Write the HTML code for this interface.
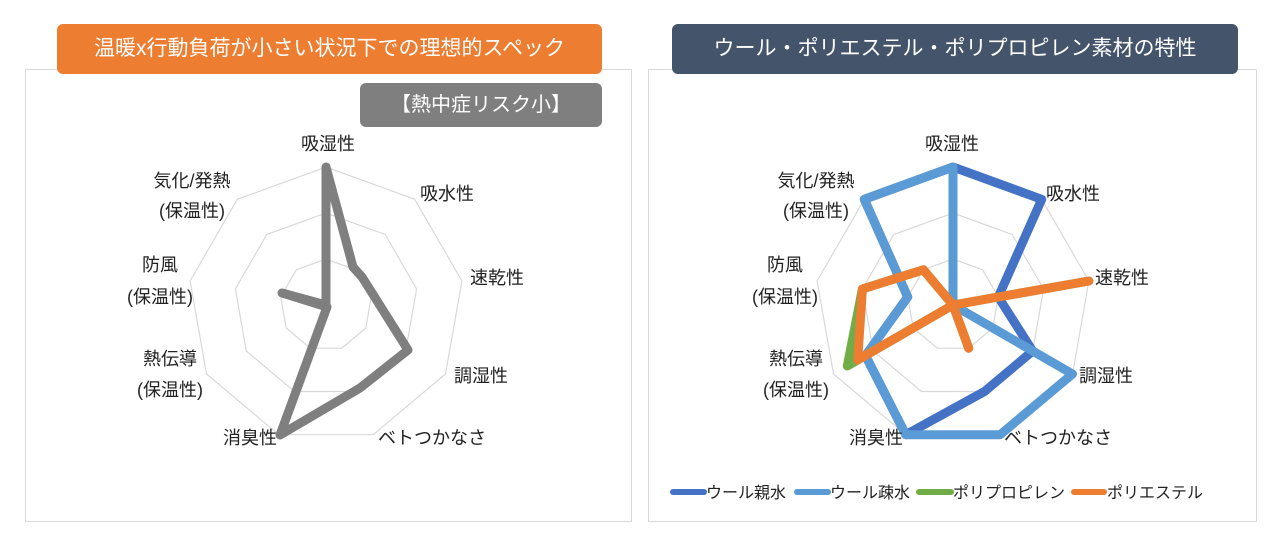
<!DOCTYPE html>
<html><head><meta charset="utf-8">
<style>
html,body{margin:0;padding:0;background:#fff;}
body{width:1280px;height:545px;position:relative;overflow:hidden;font-family:"Liberation Sans","Noto Sans CJK JP",sans-serif;}
.panel{position:absolute;border:1px solid #d9d9d9;background:#fff;}
.title{position:absolute;color:#fff;font-size:21px;text-align:center;border-radius:6px;line-height:50px;}
svg{position:absolute;left:0;top:0;}
svg text{font-family:"Liberation Sans","Noto Sans CJK JP",sans-serif;font-size:18px;fill:#222;}
</style></head><body>
<div class="panel" style="left:25px;top:69px;width:605px;height:451px;"></div>
<div class="panel" style="left:648px;top:69px;width:607px;height:451px;"></div>
<div class="title" style="left:57px;top:24px;width:545px;height:50px;background:#ED7D31;">温暖x行動負荷が小さい状況下での理想的スペック</div>
<div class="title" style="left:672px;top:24px;width:566px;height:50px;background:#44546A;">ウール・ポリエステル・ポリプロピレン素材の特性</div>
<div class="title" style="left:360px;top:83px;width:242px;height:44px;line-height:44px;background:#7F7F7F;font-size:20px;">【熱中症リスク小】</div>
<svg width="1280" height="545" viewBox="0 0 1280 545">
<defs>
<g id="grid" fill="none" stroke="#d9d9d9" stroke-width="1.2">
<polygon points="326,167 414.7,199.3 461.9,281 445.5,374 373.2,434.7 278.8,434.7 206.5,374 190.1,281 237.3,199.3"/>
<polygon points="326,213 385.2,234.5 416.6,289 405.7,351 357.5,391.5 294.5,391.5 246.3,351 235.4,289 266.8,234.5"/>
<polygon points="326,259 355.6,269.8 371.3,297 365.8,328 341.7,348.2 310.3,348.2 286.2,328 280.7,297 296.4,269.8"/>
</g>
</defs>
<use href="#grid"/>
<use href="#grid" transform="translate(627,0)"/>
<g fill="none" stroke-width="9" stroke-linejoin="round" stroke-linecap="round">
<polygon stroke="#7F7F7F" points="326,167 353,267 362,277 408,350 360,388 280,435 327,307 282,293 326,305"/>
<g transform="translate(627,0)">
<polygon stroke="#4472C4" points="326,167 414.7,199.3 371.3,297 405.7,351 357.5,391.5 278.8,434.7 238.5,355.6 280.7,297 237.3,199.3"/>
<polygon stroke="#5B9BD5" points="326,167 326,305 326,305 445.5,374 373.2,434.7 278.8,434.7 238.5,355.6 280.7,297 237.3,199.3"/>
<polygon stroke="#70AD47" points="326,305 326,305 461.9,281 326,305 341.7,348.2 326,305 220.3,366 235.4,289 296.4,269.8"/>
<polygon stroke="#ED7D31" points="326,305 326,305 461.9,281 326,305 341.7,348.2 326,305 230.7,360 235.4,289 296.4,269.8"/>
</g>
</g>
<g text-anchor="middle">
<text x="328" y="150">吸湿性</text>
<text x="447" y="200">吸水性</text>
<text x="497" y="284">速乾性</text>
<text x="481" y="382">調湿性</text>
<text x="432" y="444">ベトつかなさ</text>
<text x="250" y="444">消臭性</text>
<text x="170" y="365">熱伝導</text><text x="170" y="396">(保温性)</text>
<text x="160" y="271">防風</text><text x="160" y="303">(保温性)</text>
<text x="192" y="187">気化/発熱</text><text x="192" y="217">(保温性)</text>
<text x="952" y="150">吸湿性</text>
<text x="1073" y="200">吸水性</text>
<text x="1122" y="284">速乾性</text>
<text x="1106" y="382">調湿性</text>
<text x="1058" y="444">ベトつかなさ</text>
<text x="876" y="444">消臭性</text>
<text x="796" y="365">熱伝導</text><text x="796" y="396">(保温性)</text>
<text x="785" y="271">防風</text><text x="785" y="303">(保温性)</text>
<text x="816" y="187">気化/発熱</text><text x="816" y="217">(保温性)</text>
</g>
<g stroke-width="6" stroke-linecap="round">
<line x1="673" y1="492" x2="704" y2="492" stroke="#4472C4"/>
<line x1="797" y1="492" x2="828" y2="492" stroke="#5B9BD5"/>
<line x1="919" y1="492" x2="951" y2="492" stroke="#70AD47"/>
<line x1="1074" y1="492" x2="1104" y2="492" stroke="#ED7D31"/>
</g>
<g>
<text x="706" y="498" style="font-size:16px">ウール親水</text>
<text x="830" y="498" style="font-size:16px">ウール疎水</text>
<text x="953" y="498" style="font-size:16px">ポリプロピレン</text>
<text x="1107" y="498" style="font-size:16px">ポリエステル</text>
</g>
</svg>
</body></html>
